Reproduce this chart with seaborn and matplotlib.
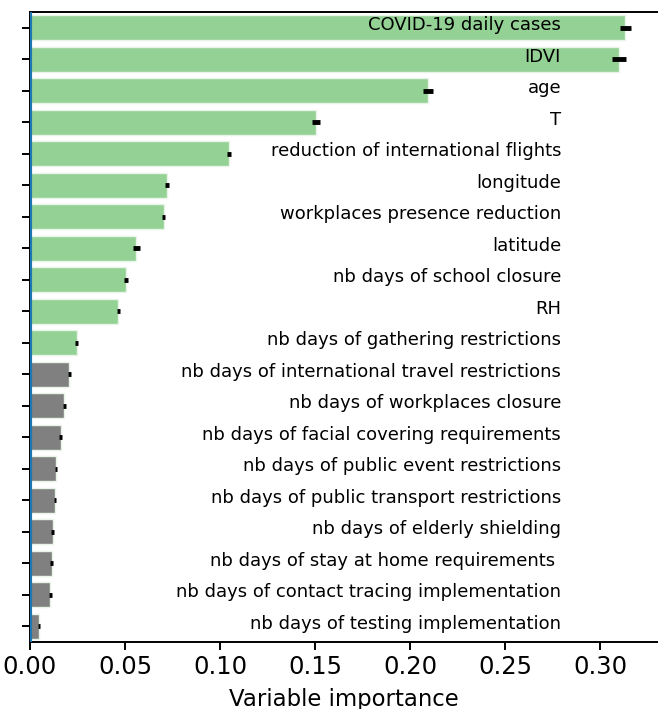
import matplotlib
matplotlib.use("Agg")
import matplotlib.pyplot as plt
import seaborn as sns
import pandas as pd

variables = [
    "COVID-19 daily cases", "IDVI", "age", "T",
    "reduction of international flights", "longitude",
    "workplaces presence reduction", "latitude",
    "nb days of school closure", "RH",
    "nb days of gathering restrictions",
    "nb days of international travel restrictions",
    "nb days of workplaces closure",
    "nb days of facial covering requirements",
    "nb days of public event restrictions",
    "nb days of public transport restrictions",
    "nb days of elderly shielding",
    "nb days of stay at home requirements ",
    "nb days of contact tracing implementation",
    "nb days of testing implementation",
]
importance = [0.3132, 0.3102, 0.2094, 0.1505, 0.1047, 0.0721, 0.0704, 0.0560,
              0.0505, 0.0465, 0.0246, 0.0207, 0.0181, 0.0161, 0.0137, 0.0132,
              0.0119, 0.0114, 0.0107, 0.0047]
error = [0.0029, 0.0037, 0.0028, 0.0022, 0.0010, 0.0011, 0.0008, 0.0017,
         0.0009, 0.0007, 0.0007, 0.0007, 0.0007, 0.0007, 0.0007, 0.0007,
         0.0007, 0.0007, 0.0007, 0.0007]
selected = [True] * 11 + [False] * 9

df = pd.DataFrame({"variable": variables, "importance": importance,
                   "selected": ["yes" if s else "no" for s in selected]})

fig = plt.figure(figsize=(6.58, 7.09), dpi=100)
ax = fig.add_axes([30 / 658, 1 - 642 / 709, 1 - 30 / 658, (642 - 12) / 709])

sns.barplot(data=df, x="importance", y="variable", hue="selected",
            palette={"yes": "#93d294", "no": "#808080"}, saturation=1,
            dodge=False, legend=False, width=0.8, ax=ax,
            edgecolor="#e8f4e8", linewidth=1.0)
ax.errorbar(df["importance"], range(len(df)), xerr=error, fmt="none",
            ecolor="black", elinewidth=3.5, capsize=0, zorder=5)
ax.axvline(0, color="#1f77b4", lw=3.0, zorder=4)

for i, name in enumerate(variables):
    ax.text(0.2795, i - 0.08, name, ha="right", va="center", fontsize=13, zorder=6)

ax.set_xlim(0, 0.3305)
ax.set_ylim(len(variables) - 0.5, -0.5)
ax.set_yticks(range(len(variables)))
ax.set_yticklabels([])
ax.set_ylabel("")
ax.set_xticks([0, 0.05, 0.1, 0.15, 0.2, 0.25, 0.3])
ax.set_xticklabels(["0.00", "0.05", "0.10", "0.15", "0.20", "0.25", "0.30"])
ax.set_xlabel("Variable importance", fontsize=16.4, labelpad=6)
ax.tick_params(axis="x", labelsize=17.5, length=6, width=1.4)
ax.tick_params(axis="y", length=6, width=1.4)
for s in ["left", "bottom", "top"]:
    ax.spines[s].set_linewidth(1.4)
ax.spines["right"].set_visible(False)

fig.savefig("out.png", dpi=100)
